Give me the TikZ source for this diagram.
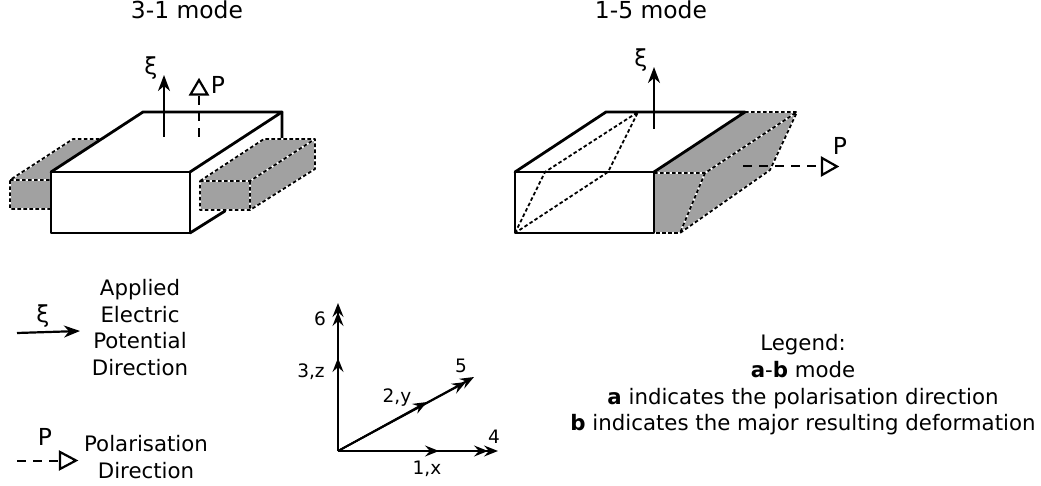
\documentclass[tikz,border=0pt]{standalone}
\usepackage{fontspec}
\setmainfont{DejaVu Sans}
\usetikzlibrary{arrows.meta}
\tikzset{
  txt/.style={inner sep=0pt,font=\fontsize{21.3}{26.6}\selectfont,align=center,text=black},
  big/.style={inner sep=0pt,font=\fontsize{23.4}{26.6}\selectfont,text=black},
  small/.style={inner sep=0pt,font=\fontsize{18.5}{20}\selectfont,text=black},
  solidbox/.style={line width=2.8pt,line join=round,line cap=round},
  dashblack/.style={black,line width=1.8pt,dash pattern=on 3.6pt off 2.4pt,line join=round},
  vec/.style={line width=2.2pt,-{Stealth[length=16pt,width=12pt,inset=5pt]}},
  vecax/.style={line width=1.8pt,-{Stealth[length=14pt,width=11pt,inset=5pt]}},
  pol/.style={line width=2pt,dash pattern=on 9pt off 7pt},
  tip/.style={draw=black,fill=white,line width=2.2pt,line join=miter},
}
\begin{document}
\begin{tikzpicture}[x=1pt,y=-1pt]
\useasboundingbox (0,0) rectangle (1041,486);
% titles
\node[big] (t1) at (187,10) {3-1 mode};
\node[big] (t2) at (651,10) {1-5 mode};
% ---- left block
\fill[black!37] (10,180) -- (73,139) -- (101,139) -- (51,172) -- (51,209) -- (10,209) -- cycle;
\draw[white,line width=1.8pt] (10,209) -- (10,180) -- (73,139) -- (101,139) (10,180) -- (51,180) (10,209) -- (51,209);
\draw[dashblack] (51,209) -- (10,209) -- (10,180) -- (73,139) -- (101,139) (10,180) -- (51,180);
\draw[solidbox] (282,112) -- (282,139) (190,233) -- (225,211);
\draw[solidbox,fill=white] (51,172) rectangle (190,233);
\draw[solidbox] (51,172) -- (143,112) -- (282,112) -- (190,172);
\fill[black!37] (200,181) -- (264,139) -- (315,139) -- (315,169) -- (250,210) -- (200,210) -- cycle;
\draw[white,line width=1.8pt] (200,181) -- (264,139) -- (315,139) -- (315,169) -- (250,210) -- (200,210) -- cycle (200,181) -- (250,181) -- (315,139) (250,181) -- (250,210);
\draw[dashblack] (200,181) -- (264,139) -- (315,139) -- (315,169) -- (250,210) -- (200,210) -- cycle (200,181) -- (250,181) -- (315,139) (250,181) -- (250,210);
\coordinate (xiAs) at (164,137); \coordinate (xiAe) at (164,75);
\draw[vec] (xiAs) -- (xiAe);
\coordinate (pAs) at (199,137); \coordinate (pAe) at (199,95);
\draw[pol] (pAs) -- (pAe);
\draw[tip] (190.5,94.5) -- (207.5,94.5) -- (199,80) -- cycle;
\node[big] (xiA) at (151,68) {ξ};
\node[big] (pA) at (218,85) {P};
% ---- right block
\fill[black!37] (654,172) -- (745,112) -- (797,112) -- (770,170) -- (680,233) -- (654,233) -- cycle;
\draw[white,line width=1.8pt] (745,112) -- (797,112) -- (770,170) -- (680,233) -- (654,233) (654,173) -- (705,173) -- (797,112) (705,173) -- (680,233);
\draw[dashblack] (745,112) -- (797,112) -- (770,170) -- (680,233) -- (654,233) (654,173) -- (705,173) -- (797,112) (705,173) -- (680,233);
\draw[dashblack] (515,233) -- (545,172) -- (638,112) -- (608,172) -- cycle;
\draw[solidbox] (515,172) rectangle (654,233);
\draw[solidbox] (515,172) -- (606,112) -- (745,112) -- (654,172);
\coordinate (xiBs) at (654,129); \coordinate (xiBe) at (654,67);
\draw[vec] (xiBs) -- (xiBe);
\coordinate (pBs) at (743,166); \coordinate (pBe) at (822,166);
\draw[pol] (pBs) -- (pBe);
\draw[tip] (822,158) -- (822,175) -- (837,166.5) -- cycle;
\node[big] (xiB) at (641,60) {ξ};
\node[big] (pB) at (840,146) {P};
% ---- key
\coordinate (xiCs) at (17,333); \coordinate (xiCe) at (80,331);
\draw[vec] (xiCs) -- (xiCe);
\node[big] (xiC) at (43,316) {ξ};
\node[txt] (appl) at (140,327.5) {Applied\\Electric\\Potential\\Direction};
\coordinate (pCs) at (17,461); \coordinate (pCe) at (60,461);
\draw[pol] (pCs) -- (pCe);
\draw[tip] (60,452) -- (60,469) -- (76,460.5) -- cycle;
\node[big] (pC) at (45,437) {P};
\node[txt] (polar) at (146,457) {Polarisation\\Direction};
% ---- axes
\coordinate (o) at (338,451);
\coordinate (z) at (338,358); \coordinate (six) at (338,312); \coordinate (sixb) at (338,303);
\coordinate (xx) at (439,451); \coordinate (four) at (488,451); \coordinate (fourb) at (498,451);
\coordinate (yy) at (427,402); \coordinate (five) at (466,382); \coordinate (fiveb) at (474,377);
\draw[vecax] (o) -- (sixb);
\draw[vecax] (o) -- (six);
\draw[vecax] (o) -- (z);
\draw[vecax] (o) -- (fourb);
\draw[vecax] (o) -- (four);
\draw[vecax] (o) -- (xx);
\draw[vecax] (o) -- (fiveb);
\draw[vecax] (o) -- (five);
\draw[vecax] (o) -- (yy);
\node[small] (l6) at (320,319) {6};
\node[small] (l3) at (311,372) {3,z};
\node[small] (l2) at (397,398) {2,y};
\node[small] (l5) at (461,366) {5};
\node[small] (l4) at (494,437) {4};
\node[small] (l1) at (427,469) {1,x};
% ---- legend
\node[txt] (legend) at (803,385) {Legend:\\\textbf{a}-\textbf{b} mode\\\textbf{a} indicates the polarisation direction\\\textbf{b} indicates the major resulting deformation};
\end{tikzpicture}
\end{document}
